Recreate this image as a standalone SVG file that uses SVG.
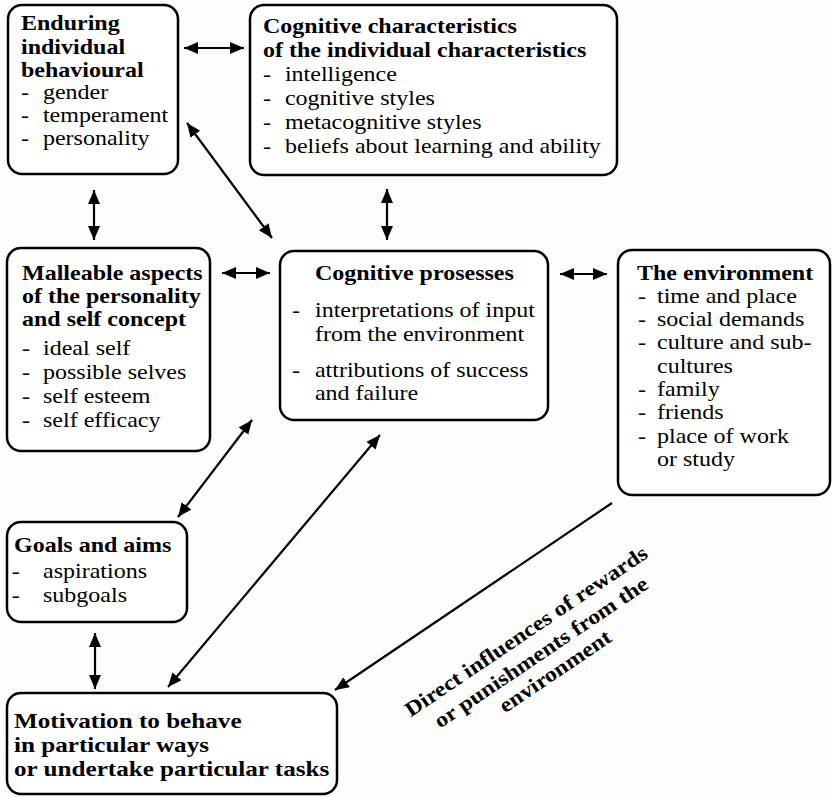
<svg xmlns="http://www.w3.org/2000/svg" width="832" height="797" viewBox="0 0 832 797">
<defs>
<style>
.box{fill:#ffffff;stroke:#000;stroke-width:2.5}
.t{font-family:"Liberation Serif","Times New Roman",serif;font-size:21px;fill:#000}
.b{font-weight:bold}
.m{font-size:22px}
.c{stroke:#000;stroke-width:2.2;fill:none}
</style>
<marker id="ah" markerUnits="userSpaceOnUse" markerWidth="16" markerHeight="14" refX="14" refY="6" orient="auto-start-reverse" viewBox="0 0 16 14">
<path d="M0,0 L14,6 L0,12 z" fill="#000"/>
</marker>
</defs>
<rect width="832" height="797" fill="#fdfdfd"/>

<g id="connectors">
<line class="c" x1="184" y1="48" x2="244" y2="48" marker-start="url(#ah)" marker-end="url(#ah)"/>
<line class="c" x1="94" y1="190" x2="94" y2="240" marker-start="url(#ah)" marker-end="url(#ah)"/>
<line class="c" x1="387" y1="189" x2="387" y2="240" marker-start="url(#ah)" marker-end="url(#ah)"/>
<line class="c" x1="187" y1="123" x2="272" y2="238" marker-start="url(#ah)" marker-end="url(#ah)"/>
<line class="c" x1="222" y1="273" x2="270" y2="273" marker-start="url(#ah)" marker-end="url(#ah)"/>
<line class="c" x1="560" y1="274" x2="607" y2="274" marker-start="url(#ah)" marker-end="url(#ah)"/>
<line class="c" x1="178" y1="517" x2="252" y2="420" marker-start="url(#ah)" marker-end="url(#ah)"/>
<line class="c" x1="168" y1="687" x2="380" y2="435" marker-start="url(#ah)" marker-end="url(#ah)"/>
<line class="c" x1="95" y1="633" x2="95" y2="689" marker-start="url(#ah)" marker-end="url(#ah)"/>
<line class="c" x1="612" y1="503" x2="335" y2="690" marker-end="url(#ah)"/>
</g>

<g id="label-direct" class="t b">
<text transform="translate(530,637) rotate(-34) scale(1.143,1)" text-anchor="middle">Direct influences of rewards</text>
<text transform="translate(545,658) rotate(-34) scale(1.143,1)" text-anchor="middle">or punishments from the</text>
<text transform="translate(559,677) rotate(-34) scale(1.143,1)" text-anchor="middle">environment</text>
</g>

<g id="enduring">
<rect class="box" x="8" y="5" width="170" height="169" rx="14"/>
<text class="t" transform="translate(21,0) scale(1.143,1)">
<tspan class="b" x="0" y="30">Enduring</tspan>
<tspan class="b" x="0" y="54">individual</tspan>
<tspan class="b" x="0" y="77">behavioural</tspan>
<tspan x="0" y="99">-</tspan><tspan x="19.2" y="99">gender</tspan>
<tspan x="0" y="122">-</tspan><tspan x="19.2" y="122">temperament</tspan>
<tspan x="0" y="145">-</tspan><tspan x="19.2" y="145">personality</tspan>
</text>
</g>

<g id="cognitive-characteristics">
<rect class="box" x="250" y="5" width="367" height="170" rx="14"/>
<text class="t" transform="translate(263,0) scale(1.143,1)">
<tspan class="b" x="0" y="33">Cognitive characteristics</tspan>
<tspan class="b" x="0" y="57">of the individual characteristics</tspan>
<tspan x="0" y="81">-</tspan><tspan x="19.2" y="81">intelligence</tspan>
<tspan x="0" y="105">-</tspan><tspan x="19.2" y="105">cognitive styles</tspan>
<tspan x="0" y="129">-</tspan><tspan x="19.2" y="129">metacognitive styles</tspan>
<tspan x="0" y="153">-</tspan><tspan x="19.2" y="153">beliefs about learning and ability</tspan>
</text>
</g>

<g id="malleable">
<rect class="box" x="7" y="248" width="203" height="203" rx="14"/>
<text class="t" transform="translate(22,0) scale(1.143,1)">
<tspan class="b" x="0" y="280">Malleable aspects</tspan>
<tspan class="b" x="0" y="303">of the personality</tspan>
<tspan class="b" x="0" y="326">and self concept</tspan>
<tspan x="0" y="355">-</tspan><tspan x="18.4" y="355">ideal self</tspan>
<tspan x="0" y="379">-</tspan><tspan x="18.4" y="379">possible selves</tspan>
<tspan x="0" y="403">-</tspan><tspan x="18.4" y="403">self esteem</tspan>
<tspan x="0" y="427">-</tspan><tspan x="18.4" y="427">self efficacy</tspan>
</text>
</g>

<g id="cognitive-processes">
<rect class="box" x="280" y="251" width="268" height="169" rx="14"/>
<text class="t" transform="translate(292,0) scale(1.143,1)">
<tspan class="b" x="20.1" y="280">Cognitive prosesses</tspan>
<tspan x="0" y="317">-</tspan><tspan x="20.1" y="317">interpretations of input</tspan>
<tspan x="20.1" y="341">from the environment</tspan>
<tspan x="0" y="377">-</tspan><tspan x="20.1" y="377">attributions of success</tspan>
<tspan x="20.1" y="400">and failure</tspan>
</text>
</g>

<g id="environment">
<rect class="box" x="618" y="250" width="212" height="245" rx="14"/>
<text class="t" transform="translate(637,0) scale(1.143,1)">
<tspan class="b" x="0" y="280">The environment</tspan>
<tspan x="0.9" y="303">-</tspan><tspan x="17.5" y="303">time and place</tspan>
<tspan x="0.9" y="326">-</tspan><tspan x="17.5" y="326">social demands</tspan>
<tspan x="0.9" y="349">-</tspan><tspan x="17.5" y="349">culture and sub-</tspan>
<tspan x="17.5" y="373">cultures</tspan>
<tspan x="0.9" y="396">-</tspan><tspan x="17.5" y="396">family</tspan>
<tspan x="0.9" y="419">-</tspan><tspan x="17.5" y="419">friends</tspan>
<tspan x="0.9" y="443">-</tspan><tspan x="17.5" y="443">place of work</tspan>
<tspan x="17.5" y="466">or study</tspan>
</text>
</g>

<g id="goals">
<rect class="box" x="7" y="522" width="180" height="100" rx="14"/>
<text class="t" transform="translate(14,0) scale(1.143,1)">
<tspan class="b" x="0" y="552">Goals and aims</tspan>
<tspan x="-2" y="578">-</tspan><tspan x="25.4" y="578">aspirations</tspan>
<tspan x="-2" y="602">-</tspan><tspan x="25.4" y="602">subgoals</tspan>
</text>
</g>

<g id="motivation">
<rect class="box" x="7" y="693" width="330" height="101" rx="14"/>
<text class="t b m" transform="translate(14,0) scale(1.143,1)">
<tspan x="0" y="728">Motivation to behave</tspan>
<tspan x="0" y="752">in particular ways</tspan>
<tspan x="0" y="776">or undertake particular tasks</tspan>
</text>
</g>
</svg>
